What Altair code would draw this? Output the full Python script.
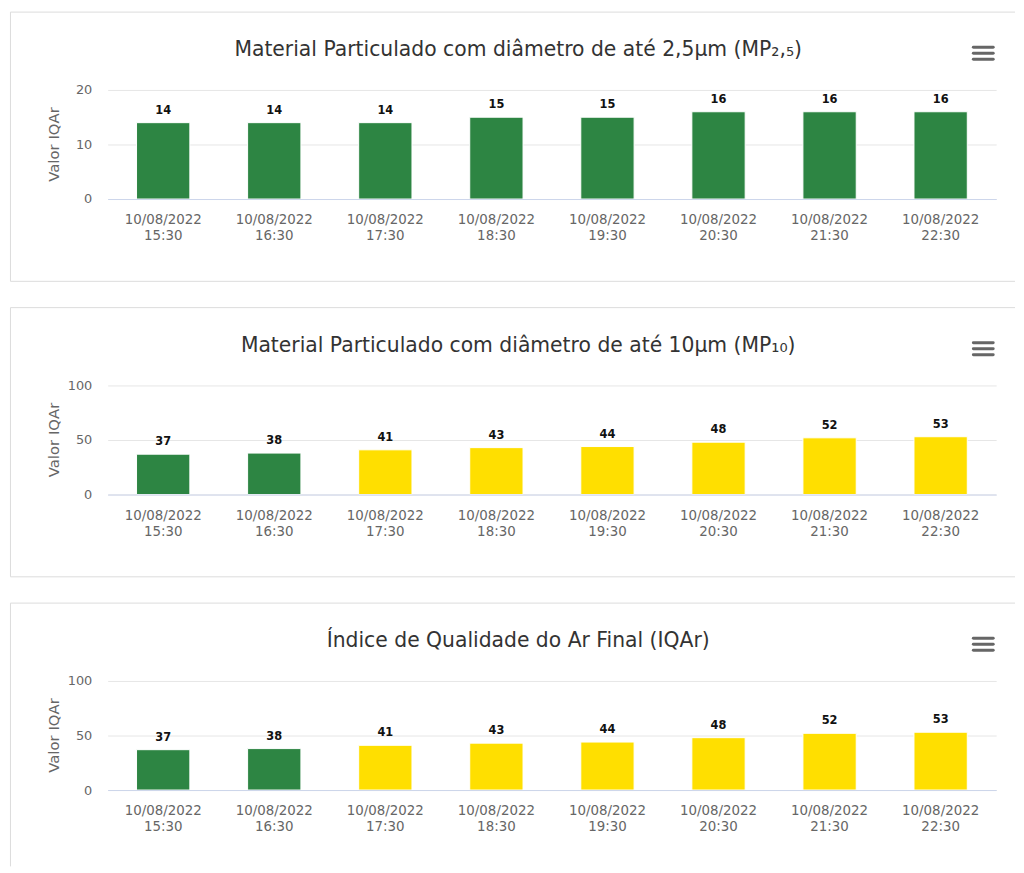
import altair as alt
import pandas as pd

categories = ["10/08/2022 15:30", "10/08/2022 16:30", "10/08/2022 17:30", "10/08/2022 18:30",
              "10/08/2022 19:30", "10/08/2022 20:30", "10/08/2022 21:30", "10/08/2022 22:30"]
mp25_values = [14, 14, 14, 15, 15, 16, 16, 16]
mp10_values = [37, 38, 41, 43, 44, 48, 52, 53]
iqar_values = [37, 38, 41, 43, 44, 48, 52, 53]
mp25_quality = ["Boa", "Boa", "Boa", "Boa", "Boa", "Boa", "Boa", "Boa"]
mp10_quality = ["Boa", "Boa", "Moderada", "Moderada", "Moderada", "Moderada", "Moderada", "Moderada"]
iqar_quality = ["Boa", "Boa", "Moderada", "Moderada", "Moderada", "Moderada", "Moderada", "Moderada"]

titles = [
    "Material Particulado com diâmetro de até 2,5µm (MP₂,₅)",
    "Material Particulado com diâmetro de até 10µm (MP₁₀)",
    "Índice de Qualidade do Ar Final (IQAr)",
]
y_axis_title = "Valor IQAr"
y_max = [20, 100, 100]
y_ticks = [[0, 10, 20], [0, 50, 100], [0, 50, 100]]
quality_levels = ["Boa", "Moderada"]
quality_colors = ["#2d8543", "#ffdf00"]

FONT = "DejaVu Sans"
W, H = 896, 110
one = pd.DataFrame({"a": [0]})
BORDER = "#dcdcdc"


def panel(values, quality, title, ymax, ticks, last):
    df = pd.DataFrame({"t": categories, "v": values, "q": quality})
    x = alt.X("t:N", sort=categories, title=None,
              scale=alt.Scale(paddingInner=0.52, paddingOuter=0.26),
              axis=alt.Axis(labelExpr="split(datum.label, ' ')", labelAngle=0,
                            labelColor="#666666", labelFontSize=13.5, labelFont=FONT,
                            labelLineHeight=16, labelPadding=14, ticks=False,
                            domainColor="#ccd6eb", domainWidth=1, grid=False, zindex=1))
    y = alt.Y("v:Q", title=None, scale=alt.Scale(domain=[0, ymax], nice=False),
              axis=alt.Axis(values=ticks, labelColor="#666666", labelFontSize=13, labelFont=FONT,
                            labelPadding=16, ticks=False, domain=False,
                            gridColor="#e6e6e6", gridWidth=1))

    card_bottom = 187 if last else 193
    top_edge = alt.Chart(one).mark_rule(stroke=BORDER, strokeWidth=1).encode(
        x=alt.value(-98), x2=alt.value(915), y=alt.value(-78.5))
    left_edge = alt.Chart(one).mark_rule(stroke=BORDER, strokeWidth=1).encode(
        x=alt.value(-98), y=alt.value(-78.5), y2=alt.value(card_bottom))
    layers = [top_edge, left_edge]
    if not last:
        bottom_edge = alt.Chart(one).mark_rule(stroke=BORDER, strokeWidth=1).encode(
            x=alt.value(-98), x2=alt.value(915), y=alt.value(card_bottom))
        layers.append(bottom_edge)

    bars = alt.Chart(df).mark_bar(stroke="white", strokeWidth=1).encode(
        x=x, y=y,
        color=alt.Color("q:N", scale=alt.Scale(domain=quality_levels, range=quality_colors), legend=None))
    labels = alt.Chart(df).mark_text(dy=-9, baseline="alphabetic", fontWeight="bold", fontSize=11.5,
                                     font=FONT, color="#111111").encode(x=x, y=y, text="v:Q")
    ttl = alt.Chart(one).mark_text(text=title, font=FONT, fontSize=20.5, color="#333333",
                                   align="center", baseline="alphabetic").encode(
        x=alt.value(414), y=alt.value(-34))
    ytitle = alt.Chart(one).mark_text(text=y_axis_title, font=FONT, fontSize=15, color="#666666",
                                      align="center", baseline="middle", angle=270).encode(
        x=alt.value(-54), y=alt.value(55))
    menu = [alt.Chart(one).mark_rule(stroke="#666666", strokeWidth=3, strokeCap="round").encode(
        x=alt.value(873), x2=alt.value(893), y=alt.value(yy)) for yy in (-43, -37, -31)]

    layers += [bars, labels, ttl, ytitle] + menu
    return alt.layer(*layers).properties(width=W, height=H)


chart = alt.vconcat(
    panel(mp25_values, mp25_quality, titles[0], y_max[0], y_ticks[0], False),
    panel(mp10_values, mp10_quality, titles[1], y_max[1], y_ticks[1], False),
    panel(iqar_values, iqar_quality, titles[2], y_max[2], y_ticks[2], True),
    spacing=188, bounds="flush",
).properties(
    padding={"left": 1.5, "top": 0, "right": 0, "bottom": 0}
).configure_view(stroke=None)

chart.save("out.html", embed_options={"renderer": "svg", "actions": False})
